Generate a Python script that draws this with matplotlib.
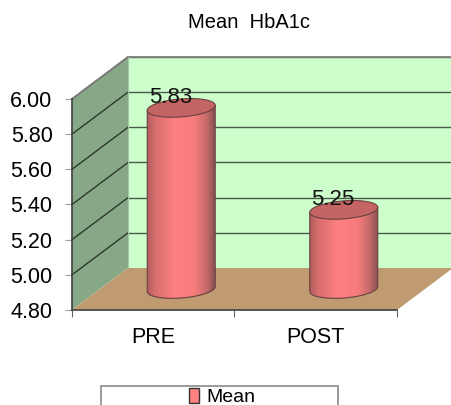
import matplotlib
matplotlib.use("Agg")
import matplotlib.pyplot as plt
import numpy as np
from matplotlib.colors import LinearSegmentedColormap
from matplotlib.patches import Polygon, Rectangle, Patch

plt.rcParams['font.family'] = ['Liberation Sans', 'DejaVu Sans']

categories = ["PRE", "POST"]
values = [5.83, 5.25]
yticks = [4.8, 5.0, 5.2, 5.4, 5.6, 5.8, 6.0]

W, H = 452, 405
fig = plt.figure(figsize=(W / 100, H / 100), dpi=100)
# axes = the front plane of the fake 3d box
ax = fig.add_axes([72 / W, 1 - 310 / H, 325 / W, 211 / H])
ax.set_xlim(0, 2)
ax.set_ylim(4.8, 6.0)
ax.patch.set_alpha(0)

dx = 56 / 162.5   # depth of the box in data units
dy = 42 / 175.83
x0, x1, y0, y1 = 0, 2, 4.8, 6.0

# walls
ax.add_patch(Polygon([(x0 + dx, y0 + dy), (x1 + dx, y0 + dy), (x1 + dx, y1 + dy), (x0 + dx, y1 + dy)],
                     fc="#ccffcc", ec="none", clip_on=False, zorder=1))
ax.add_patch(Polygon([(x0, y0), (x0 + dx, y0 + dy), (x0 + dx, y1 + dy), (x0, y1)],
                     fc="#86a886", ec="none", clip_on=False, zorder=1))
ax.add_patch(Polygon([(x0, y0), (x1, y0), (x1 + dx, y0 + dy), (x0 + dx, y0 + dy)],
                     fc="#c09a70", ec="none", clip_on=False, zorder=1))

# gridlines, back wall and side wall
for v in yticks[1:]:
    ax.plot([x0 + dx, x1 + dx], [v + dy, v + dy], color="#4a584a", lw=1.0, clip_on=False, zorder=2)
    ax.plot([x0, x0 + dx], [v, v + dy], color="#2c382c", lw=1.0, clip_on=False, zorder=2)
ax.plot([x0, x0 + dx, x1 + dx], [y1, y1 + dy, y1 + dy], color="#808080", lw=1.3, clip_on=False, zorder=2)
ax.plot([x0 + dx, x0 + dx], [y0 + dy, y1 + dy], color="#a8c8a8", lw=0.8, clip_on=False, zorder=2)

# cylinders
a = 34 / 162.5
b = 9 / 175.83
tilt = 2.5 / 175.83
t = np.linspace(0, 2 * np.pi, 121)
cmap = LinearSegmentedColormap.from_list(
    "cyl", [(0, "#b05c5c"), (0.12, "#d86e6e"), (0.42, "#ff8080"), (0.7, "#f87c7c"),
            (0.88, "#c46a6a"), (1, "#8a5050")])
grad = np.linspace(0, 1, 256).reshape(1, -1)

for i, v in enumerate(values):
    cx = i + 0.5 + dx / 2
    base = y0 + dy / 2
    top = v + dy / 2
    ex = cx + a * np.cos(t)
    ey = b * np.sin(t) + tilt * np.cos(t)
    # body outline: lower half of base, then up the sides to the top ellipse
    low = np.pi <= t
    xs = np.concatenate([ex[low], [cx + a, cx - a]])
    ys = np.concatenate([base + ey[low], [top + tilt, top - tilt]])
    ax.add_patch(Polygon(np.column_stack([xs, ys]), closed=True, fc="none", ec="#6a4040", lw=0.8,
                         clip_on=False, zorder=4))
    im = ax.imshow(grad, extent=[cx - a, cx + a, base - 2 * b, top + b], aspect="auto",
                   cmap=cmap, zorder=3)
    im.set_clip_path(Polygon(np.column_stack([xs, ys]), closed=True, transform=ax.transData))
    ax.add_patch(Polygon(np.column_stack([ex, top + ey]), closed=True, fc="#c46464", ec="#6a4040",
                         lw=0.8, clip_on=False, zorder=5))
    ax.annotate(f"{v:.2f}", (cx, top), xytext=(-11, 10), textcoords="offset pixels", ha="center",
                va="center", fontsize=16, color="#111111", zorder=6, annotation_clip=False)

ax.set_xlim(0, 2)
ax.set_ylim(4.8, 6.0)

# axes
for s in ["top", "right"]:
    ax.spines[s].set_visible(False)
for s in ["left", "bottom"]:
    ax.spines[s].set_color("#404040")
    ax.spines[s].set_linewidth(1.2)
    ax.spines[s].set_zorder(7)
ax.set_yticks(yticks)
ax.set_yticklabels([f"{v:.2f}" for v in yticks], fontsize=15.5)
ax.set_xticks([0, 1, 2])
ax.set_xticklabels([])
ax.set_xticks([0.5, 1.5], categories, minor=True, fontsize=15.5)
ax.tick_params(axis="x", which="minor", length=0, pad=12)
ax.tick_params(axis="x", which="major", length=5, color="#606060")
ax.tick_params(axis="y", length=5, color="#a0a0a0", pad=9)

fig.text(249 / W, 1 - 22 / H, "Mean  HbA1c", ha="center", va="center", fontsize=14.5)

# legend box runs off the bottom of the picture
fig.add_artist(Rectangle((101 / W, -0.02), 237 / W, 0.02 + 19 / H, transform=fig.transFigure,
                         fc="white", ec="#808080", lw=1.1))
fig.legend(handles=[Patch(fc="#ff8080", ec="#333333", label="Mean")], loc="center",
           bbox_to_anchor=(222 / W, 1 - 397 / H), frameon=False, fontsize=14,
           handlelength=0.55, handleheight=0.8, handletextpad=0.35, borderpad=0)

fig.savefig("out.png", dpi=100)
